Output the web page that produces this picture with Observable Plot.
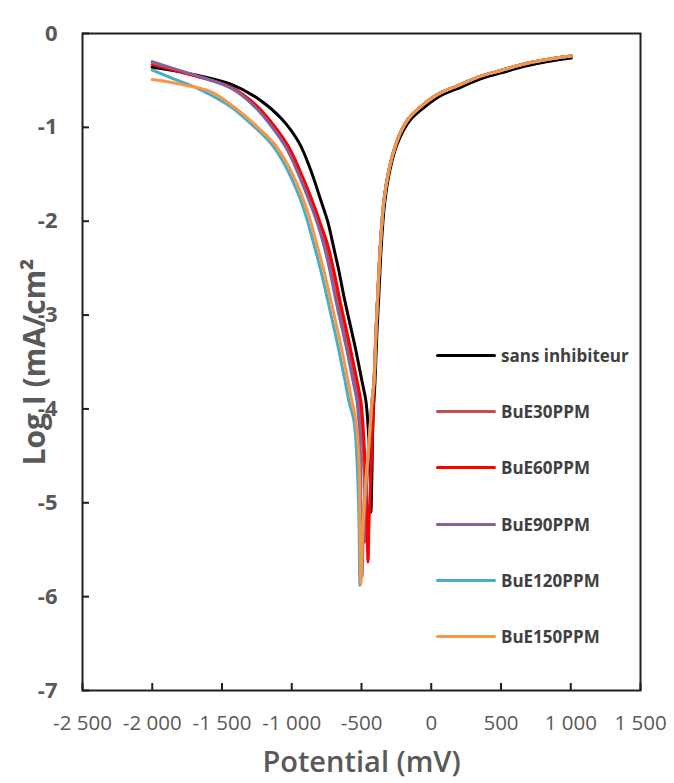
<!DOCTYPE html>
<html><head><meta charset="utf-8">
<script src="https://cdn.jsdelivr.net/npm/d3@7"></script>
<script src="https://cdn.jsdelivr.net/npm/@observablehq/plot@0.6"></script>
<style>
body{margin:0;background:#fff;}
#wrap{position:relative;width:674px;height:783px;}
#legend{position:absolute;left:436px;top:327px;font-family:"Open Sans",sans-serif;font-weight:700;font-size:17px;color:#404040;}
.row{display:flex;align-items:center;height:56.3px;white-space:nowrap;}
.sw{width:60px;height:3px;margin-right:5px;border-radius:2px;}
</style></head>
<body><div id="wrap"><div id="legend"></div></div>
<script>
// Series names and colours
const seriesNames = ["sans inhibiteur", "BuE30PPM", "BuE60PPM", "BuE90PPM", "BuE120PPM", "BuE150PPM"];
const seriesColors = ["#000000", "#C0504D", "#FF0000", "#8064A2", "#4BACC6", "#F79646"];

// Axis ticks
const xTicks = [-2500, -2000, -1500, -1000, -500, 0, 500, 1000, 1500];
const yTicks = [0, -1, -2, -3, -4, -5, -6, -7];
const xTitle = "Potential (mV)";
const yTitle = "Log I (mA/cm²";

// [potential (mV), log I]
const sansInhibiteur = [
  [-2000,-0.36],[-1724,-0.43],[-1437,-0.54],[-1236,-0.70],[-1078,-0.90],[-949,-1.16],[-863,-1.46],
  [-791,-1.78],[-741,-2.01],[-698,-2.29],[-662,-2.53],[-619,-2.85],[-547,-3.33],[-497,-3.70],
  [-468,-3.92],[-446,-4.35],[-432,-4.78],[-432,-5.10],
  [-425,-4.67],[-418,-4.13],[-403,-3.70],[-389,-3.17],[-374,-2.74],[-360,-2.31],[-339,-1.88],
  [-317,-1.62],[-288,-1.40],[-252,-1.21],[-202,-1.04],[-145,-0.91],[-37,-0.77],[71,-0.66],
  [214,-0.57],[358,-0.48],[502,-0.42],[667,-0.35],[825,-0.30],[1004,-0.26]
];
const anodicBranch = [
  [-410,-3.70],[-396,-3.17],[-382,-2.74],[-367,-2.31],[-346,-1.88],[-324,-1.62],[-295,-1.40],
  [-260,-1.21],[-216,-1.04],[-159,-0.90],[-51,-0.75],[56,-0.64],[200,-0.55],[344,-0.46],
  [487,-0.40],[652,-0.33],[818,-0.28],[1004,-0.24]
];
const bue30 = [
  [-2000,-0.30],[-1735,-0.43],[-1450,-0.57],[-1270,-0.76],[-1140,-0.98],[-1025,-1.23],[-925,-1.56],
  [-852,-1.83],[-802,-2.04],[-752,-2.26],[-710,-2.53],[-665,-2.85],[-595,-3.33],[-543,-3.70],
  [-515,-3.92],[-492,-4.35],[-480,-4.78],[-475,-5.42],
  [-468,-4.95],[-446,-4.40],[-425,-3.95]
];
const bue60 = [
  [-2000,-0.33],[-1724,-0.44],[-1437,-0.57],[-1258,-0.76],[-1128,-0.98],[-1014,-1.23],[-913,-1.56],
  [-841,-1.83],[-791,-2.04],[-741,-2.26],[-698,-2.53],[-654,-2.85],[-583,-3.33],[-532,-3.70],
  [-504,-3.92],[-482,-4.35],[-468,-4.78],[-461,-5.20],[-453,-5.63],
  [-446,-5.20],[-432,-4.67],[-418,-4.13]
];
const bue90 = [
  [-2000,-0.31],[-1724,-0.43],[-1437,-0.58],[-1279,-0.76],[-1150,-0.98],[-1035,-1.23],[-935,-1.56],
  [-863,-1.83],[-812,-2.04],[-769,-2.26],[-726,-2.53],[-683,-2.85],[-611,-3.33],[-561,-3.70],
  [-532,-3.92],[-511,-4.35],[-504,-4.99],[-496,-5.79],
  [-489,-5.42],[-468,-4.88],[-446,-4.40],[-425,-3.92]
];
const bue120 = [
  [-2000,-0.39],[-1868,-0.47],[-1653,-0.60],[-1437,-0.78],[-1294,-0.96],[-1150,-1.17],[-1049,-1.40],
  [-956,-1.70],[-899,-1.94],[-848,-2.21],[-791,-2.53],[-741,-2.85],[-669,-3.33],[-618,-3.70],
  [-590,-3.92],[-554,-4.13],[-532,-4.56],[-518,-5.20],[-511,-5.88],
  [-496,-5.42],[-475,-4.88],[-446,-4.35],[-425,-3.92]
];
const bue150 = [
  [-2000,-0.49],[-1796,-0.54],[-1581,-0.62],[-1416,-0.78],[-1272,-0.96],[-1128,-1.17],[-1028,-1.40],
  [-935,-1.70],[-877,-1.94],[-827,-2.21],[-769,-2.53],[-719,-2.85],[-647,-3.33],[-597,-3.70],
  [-568,-3.92],[-540,-4.13],[-518,-4.56],[-511,-5.20],[-504,-5.87],
  [-494,-5.40],[-473,-4.86],[-446,-4.35],[-425,-3.92]
];

const seriesData = [
  sansInhibiteur,
  bue30.concat(anodicBranch),
  bue60.concat(anodicBranch),
  bue90.concat(anodicBranch),
  bue120.concat(anodicBranch),
  bue150.concat(anodicBranch)
];

const fmt = d3.formatLocale({decimal: ",", thousands: " ", grouping: [3], currency: ["", ""], minus: "-"}).format(",");

const lineMarks = seriesData.map((data, i) =>
  Plot.line(data, {x: d => d[0], y: d => d[1], stroke: seriesColors[i], strokeWidth: 3, curve: "catmull-rom", strokeLinejoin: "round", strokeLinecap: "round"})
);

const chart = Plot.plot({
  width: 674, height: 783,
  marginLeft: 82, marginRight: 34, marginTop: 33, marginBottom: 93,
  style: {fontFamily: "'Open Sans', sans-serif", background: "#fff", color: "#595959"},
  x: {domain: [-2500, 1500]},
  y: {domain: [-7, 0]},
  marks: [
    ...lineMarks,
    Plot.frame({stroke: "#1f1f1f", strokeWidth: 2}),
    Plot.axisX(xTicks, {tickSize: -7, tickPadding: 32, tickFormat: fmt, fontSize: 20.5, fontWeight: 400, stroke: "#1f1f1f", strokeWidth: 2, label: null}),
    Plot.axisY(yTicks, {tickSize: -7, tickPadding: 32, tickFormat: d => String(d), fontSize: 22, fontWeight: 700, stroke: "#1f1f1f", strokeWidth: 2, label: null}),
    Plot.text([yTitle], {text: d => d, frameAnchor: "left", dx: -47, rotate: -90, textAnchor: "middle", lineAnchor: "middle", fontSize: 30, fontWeight: 700, fill: "#595959"}),
    Plot.text([xTitle], {text: d => d, frameAnchor: "bottom", dy: 72, textAnchor: "middle", lineAnchor: "middle", fontSize: 29, fontWeight: 600, fill: "#595959"})
  ]
});
const wrap = document.getElementById("wrap");
wrap.insertBefore(chart, wrap.firstChild);

const legend = document.getElementById("legend");
seriesNames.forEach((name, i) => {
  const row = document.createElement("div");
  row.className = "row";
  const sw = document.createElement("span");
  sw.className = "sw";
  sw.style.background = seriesColors[i];
  const label = document.createElement("span");
  label.textContent = name;
  row.appendChild(sw);
  row.appendChild(label);
  legend.appendChild(row);
});
</script></body></html>
